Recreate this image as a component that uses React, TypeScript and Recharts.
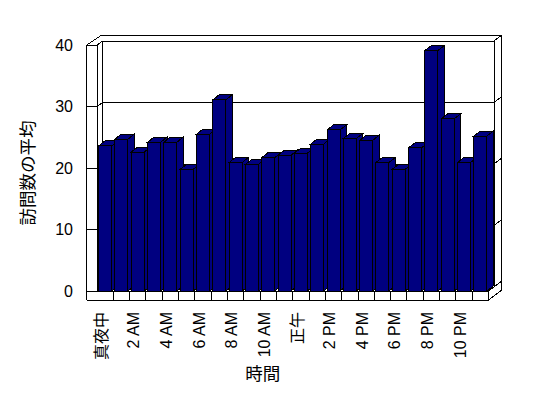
import React from 'react';
import { BarChart, Bar, XAxis, YAxis, CartesianGrid, ReferenceArea, Label } from 'recharts';

const hours = [
  '真夜中', '1 AM', '2 AM', '3 AM', '4 AM', '5 AM', '6 AM', '7 AM', '8 AM', '9 AM', '10 AM', '11 AM',
  '正午', '1 PM', '2 PM', '3 PM', '4 PM', '5 PM', '6 PM', '7 PM', '8 PM', '9 PM', '10 PM', '11 PM'
];
const visits = [
  23.6, 24.7, 22.6, 24.2, 24.2, 19.8, 25.5, 31.1, 20.9, 20.6, 21.7, 22.1,
  22.4, 23.9, 26.2, 24.8, 24.5, 20.9, 19.8, 23.3, 39.1, 28.0, 20.9, 25.2
];
const yTicks = [0, 10, 20, 30, 40];

const data = hours.map((hour, i) => ({ hour, visits: visits[i] }));

const FONT = "'Liberation Sans', Arial, 'Noto Sans CJK JP', sans-serif";
const NAVY = '#000080';

// 3D box offsets
const WALL = 10.3;   // left wall thickness
const BDX = 5.5;     // back wall shift
const BDY = 4;
const ODX = 13.2;    // outer right edge
const FLOOR = 9;     // floor thickness

// one horizontal grid line: tick on the left wall + line on the back wall
const gridLine = (p: any) => {
  const { x1, x2, y1 } = p;
  const pts = [
    [x1 - WALL, y1], [x1, y1], [x1 + BDX, y1 - BDY], [x2 + BDX, y1 - BDY], [x2 + ODX, y1 - 10]
  ].map((q) => q.join(',')).join(' ');
  return <polyline key={p.key} points={pts} fill="none" stroke="#000" strokeWidth={1} shapeRendering="crispEdges" />;
};

// the walls and floor of the box
const frame = (p: any) => {
  const L = p.x;
  const R = p.x + p.width;
  const T = p.y;
  const B = p.y + p.height;
  const s = { stroke: '#000', strokeWidth: 1, fill: 'none', shapeRendering: 'crispEdges' } as any;
  return (
    <g>
      <line x1={L - WALL} y1={T} x2={L - WALL} y2={B + FLOOR} {...s} />
      <line x1={L} y1={T} x2={L} y2={B} {...s} />
      <line x1={L - WALL} y1={T} x2={L + 4.7} y2={T - 10} {...s} />
      <line x1={L + 4.7} y1={T - 10} x2={R + ODX} y2={T - 10} {...s} />
      <line x1={R + ODX} y1={T - 10} x2={R + ODX} y2={B - 1} {...s} />
      <line x1={L + BDX} y1={T - BDY} x2={L + BDX} y2={B - BDY} {...s} />
      <line x1={R + BDX} y1={T - BDY} x2={R + BDX} y2={B - BDY} {...s} />
      <line x1={L - WALL} y1={B + FLOOR} x2={R} y2={B + FLOOR} {...s} />
      <line x1={R} y1={B + FLOOR} x2={R + ODX} y2={B - 1} {...s} />
      <line x1={R} y1={B} x2={R + BDX} y2={B - BDY} {...s} />
      <line x1={L - WALL} y1={B} x2={R} y2={B} {...s} />
    </g>
  );
};

const bar3d = (p: any) => {
  const { x, y, width: w, height: h } = p;
  const dx = 6.5;
  const dy = 5;
  return (
    <g shapeRendering="crispEdges">
      <polygon points={`${x},${y} ${x + dx},${y - dy} ${x + w + dx},${y - dy} ${x + w},${y}`} fill={NAVY} stroke="#000" />
      <polygon points={`${x + w},${y} ${x + w + dx},${y - dy} ${x + w + dx},${y + h - dy} ${x + w},${y + h}`} fill={NAVY} stroke="#000" />
      <rect x={x} y={y} width={w} height={h} fill={NAVY} stroke="#000" />
    </g>
  );
};

const XTick = (p: any) => {
  const { x, y, payload } = p;
  const index = p.index ?? payload.index ?? 0;
  const half = payload && payload.offset ? payload.offset : 8.15;
  const tx = x - 4;
  const ty = y + 21;
  return (
    <g>
      <line x1={x + half} y1={y} x2={x + half} y2={y + FLOOR} stroke="#000" shapeRendering="crispEdges" />
      {index % 2 === 0 && (
        <text x={tx} y={ty} dy="0.35em" textAnchor="end" transform={`rotate(-90 ${tx} ${ty})`}
          fontSize={16} fontFamily={FONT} fill="#000">
          {payload.value}
        </text>
      )}
    </g>
  );
};

const YTick = (p: any) => (
  <text x={p.x - 24} y={p.y} dy="0.35em" textAnchor="end" fontSize={16} fontFamily={FONT} fill="#000">
    {p.payload.value}
  </text>
);

const YTitle = (p: any) => {
  const vb = p.viewBox || { x: 0, y: 45, width: 97, height: 246 };
  const cx = vb.x + 28;
  const cy = vb.y + vb.height / 2 + 5;
  return (
    <text x={cx} y={cy} textAnchor="middle" dominantBaseline="central" transform={`rotate(-90 ${cx} ${cy})`}
      fontSize={17.5} fontFamily={FONT} fill="#000">
      訪問数の平均
    </text>
  );
};

const XTitle = (p: any) => {
  const vb = p.viewBox || { x: 97, y: 291, width: 391.5, height: 107 };
  const cx = vb.x + vb.width / 2 - 30;
  const cy = vb.y + 83;
  return (
    <text x={cx} y={cy} textAnchor="middle" dominantBaseline="central" fontSize={17.5} fontFamily={FONT} fill="#000">
      時間
    </text>
  );
};

export default function App() {
  return (
    <div style={{ position: 'absolute', left: 0, top: 0, width: 548, height: 398, background: '#fff' }}>
      <BarChart width={548} height={398} data={data} margin={{ top: 45, right: 59.5, bottom: 0, left: 0 }} barCategoryGap="10%">
        <CartesianGrid vertical={false} horizontal={gridLine} />
        <ReferenceArea y1={0} y2={40} shape={frame} ifOverflow="visible" />
        <XAxis dataKey="hour" interval={0} tickLine={false} axisLine={false} tickSize={0} tickMargin={0} height={107} tick={XTick}>
          <Label content={XTitle} />
        </XAxis>
        <YAxis domain={[0, 40]} ticks={yTicks} tickLine={false} axisLine={false} tickSize={0} tickMargin={0} width={97} tick={YTick}>
          <Label content={YTitle} />
        </YAxis>
        <Bar dataKey="visits" isAnimationActive={false} shape={bar3d} />
      </BarChart>
    </div>
  );
}
